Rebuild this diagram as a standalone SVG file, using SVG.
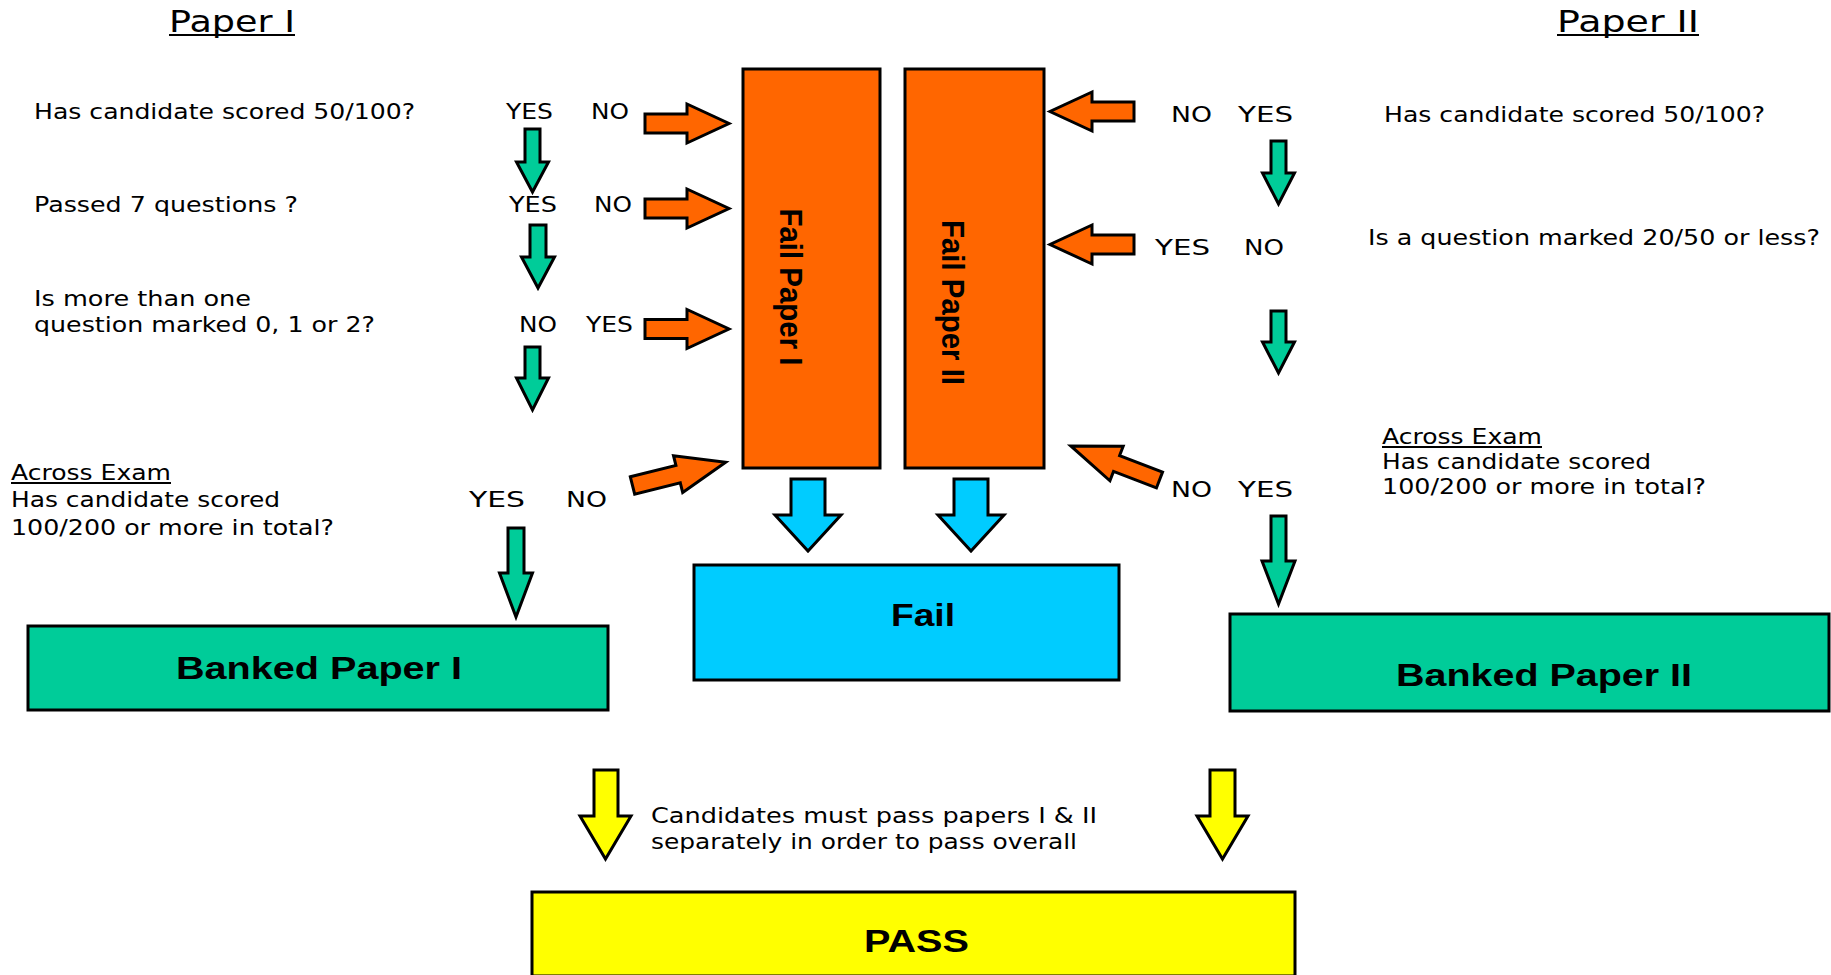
<svg xmlns="http://www.w3.org/2000/svg" xmlns:xlink="http://www.w3.org/1999/xlink" width="1831" height="975" viewBox="0 0 1831 975">
<style>
.t{font-family:"DejaVu Sans",Verdana,sans-serif;font-size:21px;fill:#000}
.h{font-size:30px}
.b{font-family:"Liberation Sans",Arial,sans-serif;font-weight:bold;font-size:31px;fill:#000}
.box{stroke:#000;stroke-width:3}
.arr{stroke:#000;stroke-width:3;stroke-linejoin:miter}
.or{fill:#FF6600}
.gr{fill:#00CC99}
.bl{fill:#00CCFF}
.ye{fill:#FFFF00}
.ul{stroke:#000;stroke-width:2}
</style>
<defs>
<path id="oarr" d="M0,-9.5 H42 V-19.5 L84,0 L42,19.5 V9.5 H0 Z"/>
</defs>
<rect width="1831" height="975" fill="#fff"/>

<g id="headings">
<text class="t h" x="169" y="32" textLength="126" lengthAdjust="spacingAndGlyphs">Paper I</text>
<line class="ul" x1="169" y1="35" x2="295" y2="35"/>
<text class="t h" x="1557" y="32" textLength="142" lengthAdjust="spacingAndGlyphs">Paper II</text>
<line class="ul" x1="1557" y1="35" x2="1699" y2="35"/>
</g>

<g id="p1-q1">
<text class="t" x="34" y="119" textLength="381" lengthAdjust="spacingAndGlyphs">Has candidate scored 50/100?</text>
<text class="t" x="506" y="119" textLength="47" lengthAdjust="spacingAndGlyphs">YES</text>
<text class="t" x="591" y="119" textLength="38" lengthAdjust="spacingAndGlyphs">NO</text>
</g>
<g id="p1-q2">
<text class="t" x="34" y="212" textLength="264" lengthAdjust="spacingAndGlyphs">Passed 7 questions ?</text>
<text class="t" x="509" y="212" textLength="48" lengthAdjust="spacingAndGlyphs">YES</text>
<text class="t" x="594" y="212" textLength="38" lengthAdjust="spacingAndGlyphs">NO</text>
</g>
<g id="p1-q3">
<text class="t" x="34" y="306" textLength="217" lengthAdjust="spacingAndGlyphs">Is more than one</text>
<text class="t" x="34" y="332" textLength="341" lengthAdjust="spacingAndGlyphs">question marked 0, 1 or 2?</text>
<text class="t" x="519" y="332" textLength="38" lengthAdjust="spacingAndGlyphs">NO</text>
<text class="t" x="586" y="332" textLength="47" lengthAdjust="spacingAndGlyphs">YES</text>
</g>
<g id="p1-q4">
<text class="t" x="11" y="480" textLength="160" lengthAdjust="spacingAndGlyphs">Across Exam</text>
<line class="ul" x1="11" y1="483" x2="171" y2="483"/>
<text class="t" x="11" y="507" textLength="269" lengthAdjust="spacingAndGlyphs">Has candidate scored</text>
<text class="t" x="11" y="535" textLength="323" lengthAdjust="spacingAndGlyphs">100/200 or more in total?</text>
<text class="t" x="469" y="507" textLength="56" lengthAdjust="spacingAndGlyphs">YES</text>
<text class="t" x="566" y="507" textLength="41" lengthAdjust="spacingAndGlyphs">NO</text>
</g>

<g id="p2-q1">
<text class="t" x="1384" y="122" textLength="381" lengthAdjust="spacingAndGlyphs">Has candidate scored 50/100?</text>
<text class="t" x="1171" y="122" textLength="41" lengthAdjust="spacingAndGlyphs">NO</text>
<text class="t" x="1238" y="122" textLength="55" lengthAdjust="spacingAndGlyphs">YES</text>
</g>
<g id="p2-q2">
<text class="t" x="1368" y="245" textLength="452" lengthAdjust="spacingAndGlyphs">Is a question marked 20/50 or less?</text>
<text class="t" x="1155" y="255" textLength="55" lengthAdjust="spacingAndGlyphs">YES</text>
<text class="t" x="1244" y="255" textLength="40" lengthAdjust="spacingAndGlyphs">NO</text>
</g>
<g id="p2-q3">
<text class="t" x="1382" y="444" textLength="160" lengthAdjust="spacingAndGlyphs">Across Exam</text>
<line class="ul" x1="1382" y1="447" x2="1542" y2="447"/>
<text class="t" x="1382" y="469" textLength="269" lengthAdjust="spacingAndGlyphs">Has candidate scored</text>
<text class="t" x="1382" y="494" textLength="324" lengthAdjust="spacingAndGlyphs">100/200 or more in total?</text>
<text class="t" x="1171" y="497" textLength="41" lengthAdjust="spacingAndGlyphs">NO</text>
<text class="t" x="1238" y="497" textLength="55" lengthAdjust="spacingAndGlyphs">YES</text>
</g>

<g id="fail-paper-1">
<rect class="box or" x="743" y="69" width="137" height="399"/>
<text class="b" transform="translate(780,287) rotate(90)" text-anchor="middle" font-size="30" textLength="157" lengthAdjust="spacingAndGlyphs">Fail Paper I</text>
</g>
<g id="fail-paper-2">
<rect class="box or" x="905" y="69" width="139" height="399"/>
<text class="b" transform="translate(942,302.5) rotate(90)" text-anchor="middle" font-size="30" textLength="165" lengthAdjust="spacingAndGlyphs">Fail Paper II</text>
</g>
<g id="fail">
<rect class="box bl" x="694" y="565" width="425" height="115"/>
<text class="b" x="891" y="626" textLength="64" lengthAdjust="spacingAndGlyphs">Fail</text>
</g>
<g id="banked-1">
<rect class="box gr" x="28" y="626" width="580" height="84"/>
<text class="b" x="176" y="679" textLength="286" lengthAdjust="spacingAndGlyphs">Banked Paper I</text>
</g>
<g id="banked-2">
<rect class="box gr" x="1230" y="614" width="599" height="97"/>
<text class="b" x="1396" y="686" textLength="296" lengthAdjust="spacingAndGlyphs">Banked Paper II</text>
</g>
<g id="pass">
<rect class="box ye" x="532" y="892" width="763" height="84"/>
<text class="b" x="864" y="952" textLength="105" lengthAdjust="spacingAndGlyphs">PASS</text>
</g>
<g id="note">
<text class="t" x="651" y="823" textLength="446" lengthAdjust="spacingAndGlyphs">Candidates must pass papers I &amp; II</text>
<text class="t" x="651" y="849" textLength="426" lengthAdjust="spacingAndGlyphs">separately in order to pass overall</text>
</g>

<g id="connectors">
<use xlink:href="#oarr" class="arr or" transform="translate(645,123.5)"/>
<use xlink:href="#oarr" class="arr or" transform="translate(645,208.5)"/>
<use xlink:href="#oarr" class="arr or" transform="translate(645,329)"/>
<path class="arr or" transform="translate(632.5,485.5) rotate(-14)" d="M0,-9 H47 V-19 L96,0 L47,19 V9 H0 Z"/>
<use xlink:href="#oarr" class="arr or" transform="translate(1134,111.5) rotate(180)"/>
<use xlink:href="#oarr" class="arr or" transform="translate(1134,244.5) rotate(180)"/>
<path class="arr or" transform="translate(1159.5,480) rotate(201)" d="M0,-8.5 H46 V-18.5 L95,0 L46,18.5 V8.5 H0 Z"/>

<path class="arr gr" d="M525,129 H540 V162 H548.5 L532.5,192 L516.5,162 H525 Z"/>
<path class="arr gr" d="M530,225 H546 V257 H554.5 L538,288 L521.5,257 H530 Z"/>
<path class="arr gr" d="M525,347 H540 V378 H548.5 L532.5,410 L516.5,378 H525 Z"/>
<path class="arr gr" d="M508,528 H524 V573 H532.5 L516,617 L499.5,573 H508 Z"/>
<path class="arr gr" d="M1271,141 H1286 V173 H1294.5 L1278.5,204 L1262.5,173 H1271 Z"/>
<path class="arr gr" d="M1271,311 H1286 V342 H1294.5 L1278.5,373 L1262.5,342 H1271 Z"/>
<path class="arr gr" d="M1271,516 H1286 V561 H1295 L1278.5,604 L1262,561 H1271 Z"/>

<path class="arr bl" d="M791,479 H825 V515 H841 L808,551 L775,515 H791 Z"/>
<path class="arr bl" d="M954,479 H988 V515 H1004 L971,551 L938,515 H954 Z"/>

<path class="arr ye" d="M594,770 H618 V816 H631 L605.5,859 L580,816 H594 Z"/>
<path class="arr ye" d="M1210,770 H1235 V816 H1248 L1222.5,859 L1197,816 H1210 Z"/>
</g>
</svg>
